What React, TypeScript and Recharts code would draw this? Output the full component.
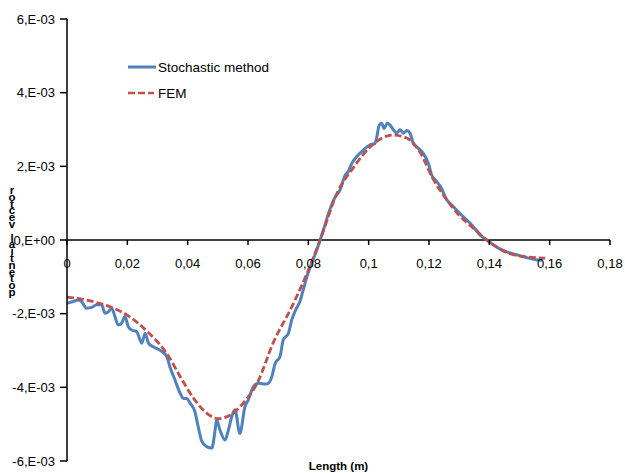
import React from 'react';
import { LineChart, Line, XAxis, YAxis, ReferenceLine, ReferenceDot, Legend } from 'recharts';

// Length (m)
const stochX = [0, 0.0021, 0.0037, 0.0048, 0.0065, 0.0082, 0.0098, 0.0115, 0.0126, 0.0137, 0.0148, 0.0159, 0.0170, 0.0181, 0.0192, 0.0203, 0.0214, 0.0231, 0.0248, 0.0259, 0.0270, 0.0286, 0.0308, 0.0331, 0.0341, 0.0358, 0.0375, 0.0386, 0.0397, 0.0408, 0.0424, 0.0435, 0.0447, 0.0463, 0.0480, 0.0491, 0.0496, 0.0507, 0.0524, 0.0535, 0.0546, 0.0557, 0.0573, 0.0590, 0.0601, 0.0618, 0.0634, 0.0662, 0.0679, 0.0690, 0.0706, 0.0717, 0.0734, 0.0745, 0.0761, 0.0772, 0.0783, 0.0795, 0.0811, 0.0828, 0.0850, 0.0868, 0.0888, 0.0905, 0.0922, 0.0932, 0.0944, 0.0960, 0.0982, 0.1004, 0.1021, 0.1027, 0.1035, 0.1043, 0.1051, 0.1062, 0.1071, 0.1082, 0.1093, 0.1104, 0.1115, 0.1126, 0.1137, 0.1148, 0.1159, 0.1181, 0.1198, 0.1209, 0.1226, 0.1242, 0.1253, 0.1281, 0.1314, 0.1342, 0.1369, 0.1400, 0.1430, 0.1460, 0.1490, 0.1520, 0.1550, 0.1575];
// potential vector, in units of 1E-03
const stochY = [-1.72, -1.67, -1.63, -1.67, -1.85, -1.83, -1.76, -1.76, -1.99, -1.95, -1.85, -2.08, -2.31, -2.26, -2.08, -2.35, -2.44, -2.49, -2.80, -2.53, -2.80, -2.90, -2.99, -3.17, -3.44, -3.80, -4.16, -4.30, -4.30, -4.43, -4.66, -5.07, -5.47, -5.61, -5.65, -5.16, -4.88, -5.16, -5.43, -5.16, -4.80, -4.61, -5.25, -4.52, -4.34, -3.98, -3.89, -3.91, -3.71, -3.35, -3.17, -2.71, -2.53, -2.17, -1.85, -1.67, -1.36, -1.00, -0.63, -0.27, 0.27, 0.75, 1.15, 1.36, 1.76, 1.85, 2.08, 2.26, 2.44, 2.58, 2.62, 2.80, 3.12, 3.17, 3.03, 3.17, 3.12, 2.99, 2.90, 2.99, 2.90, 2.97, 2.90, 2.62, 2.53, 2.35, 2.08, 1.76, 1.58, 1.40, 1.18, 0.90, 0.63, 0.41, 0.14, -0.05, -0.22, -0.33, -0.40, -0.47, -0.53, -0.55];

const femX = [0, 0.004, 0.009, 0.0145, 0.020, 0.0268, 0.0334, 0.0376, 0.042, 0.0466, 0.050, 0.054, 0.0585, 0.0631, 0.0683, 0.0749, 0.0806, 0.0839, 0.0898, 0.0948, 0.1004, 0.104, 0.108, 0.1126, 0.1169, 0.1212, 0.1258, 0.1301, 0.1346, 0.1396, 0.1456, 0.1522, 0.1585];
const femY = [-1.55, -1.59, -1.68, -1.82, -2.04, -2.50, -3.12, -3.72, -4.30, -4.72, -4.85, -4.76, -4.42, -3.88, -2.80, -1.75, -0.70, 0, 1.32, 1.95, 2.52, 2.75, 2.85, 2.77, 2.40, 1.68, 1.10, 0.66, 0.33, -0.03, -0.33, -0.46, -0.49];

const xTicks = [0, 0.02, 0.04, 0.06, 0.08, 0.1, 0.12, 0.14, 0.16, 0.18];
const xTickLabels = ['0', '0,02', '0,04', '0,06', '0,08', '0,1', '0,12', '0,14', '0,16', '0,18'];
const yTicks = [-6, -4, -2, 0, 2, 4, 6];
const yTickLabels = ['-6,E-03', '-4,E-03', '-2,E-03', '0,E+00', '2,E-03', '4,E-03', '6,E-03'];

const seriesNames = ['Stochastic method', 'FEM'];
const seriesColors = ['#4F81BD', '#C0504D'];
const xTitle = 'Length (m)';
const yTitle = 'potential vector';

const FONT = '"Liberation Sans", Arial, sans-serif';

const stochData = stochX.map((x, i) => ({ x, y: stochY[i] }));
const femData = femX.map((x, i) => ({ x, y: femY[i] }));

const renderYTitle = (props: any) => {
  const vb = props.viewBox || { x: 0, y: 19, width: 67, height: 442 };
  const cy = vb.y + vb.height / 2;
  const chars = yTitle.split('').reverse();
  return (
    <text fontFamily={FONT} fontSize={11.5} fontWeight="bold" fill="#000" textAnchor="middle">
      {chars.map((c, i) => (
        <tspan key={i} x={12} y={cy - 46 + i * 6.8}>{c === ' ' ? '\u00a0' : c}</tspan>
      ))}
    </text>
  );
};

const renderXTitle = (props: any) => {
  const vb = props.viewBox || { x: 67, y: 461, width: 543, height: 12 };
  return (
    <text x={vb.x + vb.width / 2} y={vb.y + 9} fontFamily={FONT} fontSize={11.5} fontWeight="bold" fill="#000" textAnchor="middle">
      {xTitle}
    </text>
  );
};

const renderLegend = () => (
  <svg width={240} height={50} style={{ display: 'block' }}>
    <line x1={8} x2={36} y1={11} y2={11} stroke={seriesColors[0]} strokeWidth={3} />
    <text x={38} y={11} dominantBaseline="central" fontFamily={FONT} fontSize={13.5} fill="#000">{seriesNames[0]}</text>
    <line x1={8} x2={34} y1={37} y2={37} stroke={seriesColors[1]} strokeWidth={2.5} strokeDasharray="7 3" />
    <text x={38} y={37} dominantBaseline="central" fontFamily={FONT} fontSize={13.5} fill="#000">{seriesNames[1]}</text>
  </svg>
);

const makeXTick = (label: string) => (p: any) => {
  const { cx, cy } = p;
  return (
    <g>
      <line x1={cx} x2={cx} y1={cy} y2={cy + 5} stroke="#000" strokeWidth={1.5} />
      <text x={cx} y={cy + 28} textAnchor="middle" fontFamily={FONT} fontSize={13} fill="#000">{label}</text>
    </g>
  );
};

export default function App() {
  return (
    <div style={{ position: 'absolute', left: 0, top: 0, background: '#fff' }}>
      <LineChart width={625} height={473} margin={{ top: 19, right: 15, bottom: 0, left: 0 }}>
        <XAxis
          type="number"
          dataKey="x"
          domain={[0, 0.18]}
          ticks={xTicks}
          axisLine={false}
          tickLine={false}
          tick={false}
          height={12}
          label={renderXTitle}
          allowDataOverflow
        />
        <YAxis
          type="number"
          dataKey="y"
          domain={[-6, 6]}
          ticks={yTicks}
          width={67}
          interval={0}
          axisLine={{ stroke: '#000', strokeWidth: 1.5 }}
          tickLine={{ stroke: '#000', strokeWidth: 1.5 }}
          tickSize={7}
          tickMargin={5}
          tick={{ fill: '#000', fontSize: 13, fontFamily: FONT }}
          tickFormatter={(v: number) => yTickLabels[yTicks.indexOf(v)]}
          label={renderYTitle}
          allowDataOverflow
        />
        <ReferenceLine y={0} stroke="#000" strokeWidth={1.5} ifOverflow="visible" />
        {xTicks.map((t, i) => (
          <ReferenceDot key={t} x={t} y={0} r={0} ifOverflow="visible" shape={makeXTick(xTickLabels[i])} />
        ))}
        <Line
          data={stochData}
          dataKey="y"
          name={seriesNames[0]}
          type="monotoneX"
          stroke={seriesColors[0]}
          strokeWidth={3}
          dot={false}
          isAnimationActive={false}
        />
        <Line
          data={femData}
          dataKey="y"
          name={seriesNames[1]}
          type="monotone"
          stroke={seriesColors[1]}
          strokeWidth={2.8}
          strokeDasharray="7 3"
          dot={false}
          isAnimationActive={false}
        />
        <Legend
          layout="horizontal"
          verticalAlign="middle"
          align="center"
          wrapperStyle={{ left: 120, top: 56, width: 240, height: 50 }}
          content={renderLegend}
        />
      </LineChart>
    </div>
  );
}
